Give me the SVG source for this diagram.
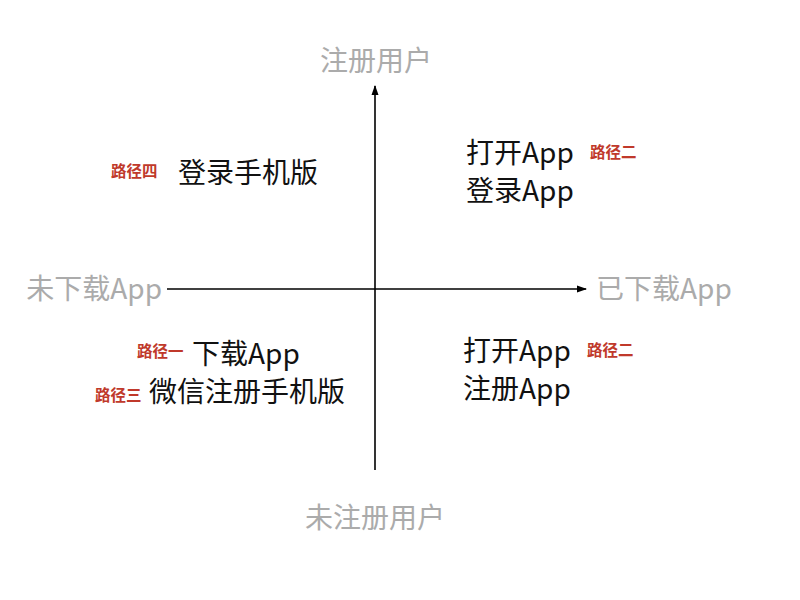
<svg xmlns="http://www.w3.org/2000/svg" width="800" height="600" viewBox="0 0 800 600">
<style>
.axis{font-family:"Noto Sans CJK SC","Liberation Sans",sans-serif;font-size:28px;fill:#ababab;}
.main{font-family:"Noto Sans CJK SC","Liberation Sans",sans-serif;font-size:28px;fill:#111;}
.tag{font-family:"Noto Sans CJK SC","Liberation Sans",sans-serif;font-size:15.5px;font-weight:bold;fill:#c0392b;}
.ln{stroke:#000;stroke-width:1.6;fill:none;}
</style>
<defs>
<marker id="ah" viewBox="0 0 10 10" refX="9" refY="5" markerWidth="10" markerHeight="10" markerUnits="userSpaceOnUse" orient="auto">
<path d="M0,1.5 L10,5 L0,8.5 Z" fill="#000"/>
</marker>
</defs>
<rect width="800" height="600" fill="#fff"/>
<g id="connectors">
<line class="ln" x1="375" y1="470" x2="375" y2="86" marker-end="url(#ah)"/>
<line class="ln" x1="167" y1="289" x2="586" y2="289" marker-end="url(#ah)"/>
</g>
<g id="axis-top"><text class="axis" x="376" y="71" text-anchor="middle">注册用户</text></g>
<g id="axis-bottom"><text class="axis" x="375" y="528" text-anchor="middle">未注册用户</text></g>
<g id="axis-left"><text class="axis" x="162" y="299" text-anchor="end">未下载App</text></g>
<g id="axis-right"><text class="axis" x="596" y="299">已下载App</text></g>
<g id="q-top-left">
<text class="tag" x="111" y="177">路径四</text>
<text class="main" x="178" y="183">登录手机版</text>
</g>
<g id="q-top-right">
<text class="main" x="466" y="163">打开App</text>
<text class="main" x="466" y="201">登录App</text>
<text class="tag" x="590" y="158">路径二</text>
</g>
<g id="q-bottom-right">
<text class="main" x="463" y="361">打开App</text>
<text class="main" x="463" y="399">注册App</text>
<text class="tag" x="587" y="356">路径二</text>
</g>
<g id="q-bottom-left">
<text class="tag" x="137" y="357">路径一</text>
<text class="main" x="192" y="364">下载App</text>
<text class="tag" x="95" y="401">路径三</text>
<text class="main" x="149" y="402">微信注册手机版</text>
</g>
</svg>
